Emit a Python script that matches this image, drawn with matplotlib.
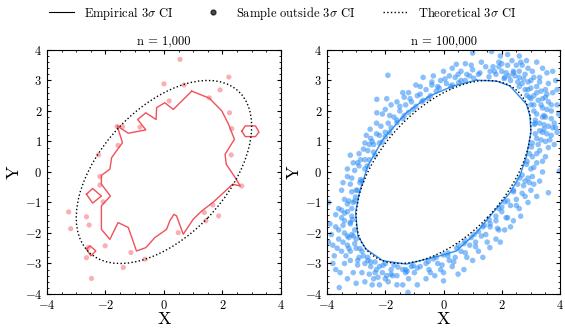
import matplotlib
matplotlib.use("Agg")
import matplotlib.pyplot as plt
from matplotlib.patches import Ellipse
from matplotlib.lines import Line2D
from matplotlib.ticker import AutoMinorLocator, MultipleLocator

plt.rcParams.update({
    "font.family": "serif",
    "font.serif": ["cmr10"],
    "mathtext.fontset": "cm",
    "axes.formatter.use_mathtext": True,
    "xtick.direction": "in",
    "ytick.direction": "in",
    "xtick.top": True,
    "ytick.right": True,
    "xtick.major.size": 3,
    "ytick.major.size": 3,
    "xtick.minor.size": 1.5,
    "ytick.minor.size": 1.5,
    "xtick.minor.visible": True,
    "ytick.minor.visible": True,
    "axes.linewidth": 0.8,
})

# theoretical 3-sigma ellipse (rho = 0.5, unit variances)
ell_center = (0.0, 0.0)
ell_width = 7.348
ell_height = 4.243
ell_angle = 45.0

titles = ["n = 1,000", "n = 100,000"]

# ---- n = 1,000 : empirical contour pieces
emp1_main_x = [0.95, 1.55, 1.98, 2.21, 2.41, 2.09, 2.13, 2.40, 2.61, 2.35, 1.98, 1.67, 1.29, 1.00,
               0.66, 0.43, 0.34, 0.20, 0.09, -0.31, -0.62, -0.94, -1.22, -1.57, -1.85, -2.14,
               -2.14, -1.83, -2.14, -2.14, -1.85, -1.79, -1.42, -1.60, -1.22, -0.62, -0.90,
               -0.62, -0.27, -0.25, 0.03, 0.32, 0.95]
emp1_main_y = [2.65, 2.42, 2.00, 1.56, 1.07, 0.58, 0.25, -0.13, -0.46, -0.40, -0.73, -1.00, -1.28,
               -1.55, -2.04, -1.44, -1.39, -1.60, -1.88, -2.15, -2.48, -2.59, -1.82, -1.66, -2.21,
               -1.88, -1.11, -0.79, -0.40, -0.11, 0.09, 0.47, 0.96, 1.51, 1.27, 1.38, 1.72, 1.94,
               1.72, 2.11, 2.27, 2.05, 2.65]
emp1_d1_x = [-2.65, -2.44, -2.14, -2.44, -2.65]
emp1_d1_y = [-0.73, -0.54, -0.79, -1.02, -0.73]
emp1_d2_x = [-2.65, -2.53, -2.33, -2.50, -2.65]
emp1_d2_y = [-2.53, -2.42, -2.59, -2.75, -2.53]
emp1_hex_x = [2.66, 2.78, 3.13, 3.25, 3.13, 2.78, 2.66]
emp1_hex_y = [1.34, 1.51, 1.51, 1.31, 1.16, 1.16, 1.34]

# ---- n = 1,000 : samples outside
out1_x = [0.55, 2.22, 0.00, 0.69, 1.92, 0.18, 1.55, 2.24, -1.60, -1.42, -0.82, 2.32, -1.57,
          -2.24, 2.30, -2.19, -2.19, 2.66, -2.08, -3.26, -2.65, 1.67, 1.38, 1.43, 1.87, -2.56,
          -3.19, 0.49, -2.01, -2.59, -2.65, -1.13, -0.65, -1.39, -2.48]
out1_y = [3.69, 3.11, 2.89, 2.85, 2.69, 2.33, 2.43, 1.94, 1.49, 1.49, 1.47, 1.42, 0.87,
          0.56, 0.56, -0.15, -0.43, -0.46, -0.98, -1.31, -1.47, -1.08, -1.33, -1.60, -1.44,
          -1.74, -1.86, -1.99, -2.42, -2.48, -2.81, -2.64, -2.86, -3.13, -3.49]

# ---- n = 100,000 : empirical contour
emp2_x = [1.13, 1.82, 2.28, 2.85, 2.97, 3.00, 2.85, 2.62, 2.28, 1.70, 1.13, 0.44, -0.13, -0.59,
          -1.28, -2.08, -2.66, -2.94, -3.02, -2.89, -2.60, -2.08, -1.28, -0.48, 0.33, 1.13]
emp2_y = [3.01, 2.98, 2.82, 2.22, 1.83, 1.29, 0.52, -0.13, -0.68, -1.33, -1.99, -2.59, -2.75,
          -2.86, -3.02, -2.91, -2.53, -2.10, -1.33, -0.68, 0.20, 1.07, 1.94, 2.49, 2.82, 3.01]

# ---- n = 100,000 : samples outside (read region by region)
out2_pts = [
    # north-east
    (1.6, 3.3), (1.8, 3.2), (2.0, 3.3), (2.1, 3.1), (2.3, 3.0), (2.4, 3.3), (2.5, 3.5), (2.6, 3.1),
    (2.7, 2.9), (2.8, 3.2), (2.9, 2.7), (3.0, 3.0), (3.1, 2.5), (3.2, 2.8), (3.3, 3.1), (3.4, 2.4),
    (3.5, 2.7), (3.1, 2.2), (3.2, 1.9), (3.4, 2.1), (3.6, 2.3), (3.3, 1.6), (3.5, 1.8), (3.7, 2.0),
    (3.4, 1.3), (3.6, 1.5), (3.8, 1.6), (3.2, 1.1), (3.5, 1.0), (3.7, 1.2), (3.9, 1.3), (3.3, 0.7),
    (3.5, 0.5), (3.2, 0.3), (3.0, 0.1), (3.4, 0.0), (2.9, -0.2), (3.1, -0.4), (3.6, -0.68),
    (3.98, 0.03), (3.85, 3.0), (3.55, 3.25), (3.2, 3.6), (2.6, 3.8), (2.2, 3.85), (1.65, 3.95),
    (1.0, 3.9), (1.3, 3.6), (1.9, 3.6), (2.9, 3.4), (3.6, 2.9), (3.75, 2.6), (3.9, 2.2), (2.2, 3.5),
    (2.7, 3.5), (3.05, 3.3), (3.35, 2.65), (3.55, 2.05), (3.7, 1.75), (3.45, 1.55), (1.7, 3.45),
    (2.45, 3.15), (2.95, 2.45), (3.25, 2.35), (3.15, 1.7), (3.3, 1.35), (3.6, 0.8), (3.8, 0.9),
    (3.25, 0.9), (3.05, 0.5), (2.35, 3.65), (2.85, 3.65), (3.4, 3.4), (3.75, 3.3), (3.9, 2.7),
    (3.95, 1.9), (3.65, 1.05), (3.4, 0.35), (1.95, 3.8), (3.0, 2.75), (2.6, 3.3), (3.3, 2.95),
    (3.5, 2.45), (3.85, 1.45), (2.15, 3.25), (1.45, 3.45), (2.75, 3.05), (3.45, 1.85),
    (2.9, 2.95), (3.2, 2.6), (3.35, 2.2), (3.4, 1.8), (3.45, 1.4), (2.4, 3.25), (1.9, 3.45),
    (3.35, 1.05), (3.2, 0.6), (1.75, 3.3), (2.25, 3.15), (2.55, 2.95), (2.8, 2.7), (3.0, 2.4),
    (3.1, 2.0), (3.15, 1.6), (3.15, 1.25), (3.05, 0.95), (2.95, 0.6), (2.85, 0.25), (1.25, 3.25),
    (2.0, 3.55), (2.65, 3.6), (3.1, 3.1), (3.55, 2.55), (3.7, 2.2), (3.75, 1.45), (3.55, 1.25),
    # north-west
    (-2.8, -0.3), (-3.0, -0.6), (-3.2, -0.4), (-2.9, 0.2), (-2.7, 0.4), (-3.1, 0.3), (-2.6, 0.7),
    (-2.4, 0.9), (-2.7, 0.95), (-2.52, 1.4), (-2.2, 1.2), (-2.0, 1.3), (-2.3, 1.6), (-1.9, 1.6),
    (-1.7, 1.8), (-2.1, 1.9), (-2.29, 2.38), (-2.29, 1.94), (-1.5, 2.0), (-1.6, 2.3), (-1.3, 2.2),
    (-1.1, 2.3), (-1.4, 2.6), (-0.9, 2.5), (-0.8, 2.8), (-0.6, 2.7), (-0.4, 2.85), (-0.2, 2.8),
    (-0.1, 3.0), (0.1, 2.9), (0.2, 3.15), (0.4, 3.1), (0.44, 3.53), (0.6, 3.3), (0.8, 3.2),
    (1.0, 3.35), (1.2, 3.2), (-1.91, 3.17), (-3.4, -0.9), (-3.5, -0.6), (-3.3, 0.1), (-2.9, 0.6),
    (-2.5, 1.1), (-1.8, 2.2), (-1.2, 2.6), (-0.7, 3.1), (0.0, 3.3), (-3.6, -1.2), (-3.2, 0.55),
    (-2.1, 0.98), (-2.62, 0.2), (-3.02, -0.82), (-1.05, 2.05), (-1.6, 1.62), (-0.52, 2.41),
    (0.52, 2.93), (1.04, 3.07), (-2.87, -0.35), (-2.35, 0.55), (-1.85, 1.3), (-1.35, 1.85),
    (-0.75, 2.3), (-0.25, 2.65), (0.3, 2.85), (0.75, 3.0), (-3.3, -0.15), (-2.65, 1.2),
    (-3.05, -0.95), (-2.95, -0.6), (-2.85, -0.25), (-2.7, 0.1), (-2.55, 0.4), (-2.4, 0.65),
    (-2.2, 0.95), (-2.0, 1.15), (-1.8, 1.45), (-1.6, 1.7), (-1.4, 1.75), (-1.2, 1.95),
    (-0.95, 2.15), (-0.7, 2.35), (-0.45, 2.5), (-0.15, 2.75), (0.25, 2.8), (0.6, 3.0), (0.9, 3.15),
    (-3.15, -0.2), (-2.95, 0.3), (-2.75, 0.75), (-2.45, 1.0), (-2.15, 1.5), (-1.85, 1.85),
    (-1.5, 2.15), (-1.15, 2.4), (-0.8, 2.55), (-0.4, 2.95), (0.05, 3.05), (0.5, 3.2), (0.95, 3.5),
    (-2.0, 2.05), (-1.95, 2.4), (-1.35, 2.45), (-0.95, 2.85), (-0.35, 3.15), (0.3, 3.4),
    (-3.05, 0.05), (-2.85, 0.4), (-2.55, 0.9), (-2.3, 1.25), (-3.45, -0.35), (0.75, 3.55),
    # south-west
    (-3.1, -1.0), (-3.3, -1.3), (-3.5, -1.5), (-3.2, -1.7), (-3.4, -2.0), (-3.7, -1.8), (-3.1, -2.1),
    (-3.3, -2.4), (-3.6, -2.2), (-3.5, -2.6), (-3.0, -2.5), (-2.9, -2.8), (-3.2, -2.9), (-3.4, -3.0),
    (-2.7, -3.0), (-2.5, -3.1), (-2.8, -3.3), (-3.1, -3.3), (-2.3, -3.2), (-2.1, -3.3), (-2.0, -3.0),
    (-1.8, -3.2), (-1.6, -3.4), (-1.4, -3.2), (-1.2, -3.5), (-1.4, -3.7), (-1.22, -3.95),
    (-1.9, -3.6), (-2.4, -3.5), (-2.7, -3.6), (-3.0, -3.65), (-3.58, -3.79), (-3.8, -3.0),
    (-3.95, -2.3), (-3.9, -1.7), (-3.95, -1.0), (-3.7, -1.4), (-3.55, -3.3), (-3.75, -2.75),
    (-2.2, -3.7), (-1.0, -3.3), (-0.8, -3.1), (-0.5, -3.2), (-0.3, -3.4), (0.0, -3.3), (0.0, -3.57),
    (-0.6, -3.5), (-0.9, -3.7), (-2.6, -2.9), (-3.2, -2.6), (-3.4, -1.6), (-3.6, -1.9), (-3.8, -2.4),
    (-3.3, -3.5), (-2.0, -3.5), (-1.6, -3.7), (-3.05, -1.9), (-2.8, -2.6), (-2.35, -2.95),
    (-1.7, -3.05), (-1.1, -3.1), (-3.15, -1.45), (-3.45, -2.3), (-2.55, -3.35), (-3.12, -1.56),
    (-3.0, -2.2), (-2.6, -2.8), (-2.08, -3.06), (-1.56, -3.12), (-1.04, -3.07), (-2.87, -2.51),
    (-3.25, -2.15), (-3.35, -2.75), (-2.95, -3.05), (-2.25, -3.45), (-1.75, -3.4), (-3.65, -2.5),
    (-3.85, -2.05), (-3.5, -1.25), (-3.25, -0.95), (-2.45, -3.7), (-1.3, -3.3), (-3.7, -3.2),
    (-2.95, -2.9), (-3.25, -2.5), (-3.3, -2.1), (-3.45, -1.75), (-3.4, -1.35), (-2.35, -3.3),
    (-1.95, -3.4), (-3.3, -1.05), (-3.15, -0.65), (-1.3, -3.2), (-1.8, -3.35), (-2.2, -3.1),
    (-2.5, -2.95), (-2.75, -2.75), (-3.05, -2.35), (-3.15, -2.05), (-3.2, -1.65), (-3.15, -1.2),
    # south-east
    (2.8, -0.3), (3.0, -0.6), (2.7, -0.7), (2.5, -0.9), (2.3, -1.1), (2.6, -1.2), (2.0, -1.3),
    (2.2, -1.5), (1.8, -1.6), (1.6, -1.8), (1.9, -1.9), (1.3, -2.1), (1.5, -2.3), (1.1, -2.3),
    (0.9, -2.4), (1.2, -2.6), (0.6, -2.6), (0.4, -2.8), (0.8, -2.8), (0.2, -2.9), (-0.2, -3.0),
    (0.3, -3.1), (1.59, -2.48), (1.0, -2.9), (2.4, -1.6), (2.9, -1.0), (3.2, -0.8), (3.3, -0.3),
    (0.7, -3.2), (-0.1, -3.2), (1.8, -2.2), (2.1, -1.9), (2.1, -0.98), (2.62, -0.2), (1.57, -1.57),
    (1.05, -2.05), (0.52, -2.41), (0.0, -2.72), (-0.52, -2.93), (2.87, 0.35), (3.02, 0.82),
    (3.12, 1.56), (3.0, 2.2), (2.6, 2.8), (2.08, 3.06), (1.56, 3.12), (2.86, 2.51), (2.4, -0.6),
    (1.9, -1.2), (1.35, -1.8), (0.75, -2.25), (0.15, -2.65), (-0.35, -2.85), (2.75, -0.45),
    (2.7, -0.1), (2.55, -0.4), (2.4, -0.65), (2.2, -0.95), (2.0, -1.15), (1.8, -1.45),
    (1.6, -1.7), (1.4, -1.75), (1.2, -1.95), (0.95, -2.15), (0.7, -2.35), (0.45, -2.5),
    (0.15, -2.75), (-0.25, -2.8), (-0.6, -3.0), (-0.9, -3.15), (-1.25, -3.25),
    (3.1, 0.15), (2.95, -0.35), (2.8, -0.8), (2.5, -1.1), (2.15, -1.5), (1.85, -1.85),
    (1.45, -2.05), (1.1, -2.45), (0.75, -2.65), (0.35, -2.95), (-0.05, -3.05), (-0.45, -3.3),
    (2.65, -1.45), (2.3, -1.8), (1.95, -2.3), (1.35, -2.8), (0.5, -3.35), (3.05, -0.15),
]
out2_x = [p[0] for p in out2_pts]
out2_y = [p[1] for p in out2_pts]

red = "#f0505a"
blue = "#2b8cf5"

fig = plt.figure(figsize=(5.65, 3.28), dpi=100)
ax1 = fig.add_axes([0.0832, 0.1037, 0.414, 0.744])
ax2 = fig.add_axes([0.5788, 0.1037, 0.4124, 0.744])

# left panel
ax1.scatter(out1_x, out1_y, s=14, color=red, alpha=0.45, edgecolors="none", zorder=1)
for xs, ys in [(emp1_main_x, emp1_main_y), (emp1_d1_x, emp1_d1_y),
               (emp1_d2_x, emp1_d2_y), (emp1_hex_x, emp1_hex_y)]:
    ax1.plot(xs, ys, color=red, lw=1.0, zorder=2)

# right panel
ax2.scatter(out2_x, out2_y, s=16, color=blue, alpha=0.55, edgecolors="none", zorder=1)
ax2.plot(emp2_x, emp2_y, color=blue, lw=1.0, zorder=2)

for ax, title in zip([ax1, ax2], titles):
    ax.add_patch(Ellipse(ell_center, ell_width, ell_height, angle=ell_angle,
                         fill=False, ls=":", lw=1.0, color="black", zorder=3))
    ax.set_xlim(-4, 4)
    ax.set_ylim(-4, 4)
    ax.xaxis.set_major_locator(MultipleLocator(2))
    ax.yaxis.set_major_locator(MultipleLocator(1))
    ax.xaxis.set_minor_locator(AutoMinorLocator())
    ax.yaxis.set_minor_locator(AutoMinorLocator())
    ax.tick_params(labelsize=9)
    ax.set_title(title, fontsize=9, pad=4)
    ax.set_xlabel("X", fontsize=13, labelpad=0)
    ax.set_ylabel("Y", fontsize=13, labelpad=2)

handles = [
    Line2D([], [], color="black", lw=0.8),
    Line2D([], [], color="black", marker="o", ls="none", ms=3.5, alpha=0.7),
    Line2D([], [], color="black", ls=":", lw=1.0),
]
labels = [r"Empirical $3\sigma$ CI", r"Sample outside $3\sigma$ CI", r"Theoretical $3\sigma$ CI"]
fig.legend(handles, labels, loc="upper center", bbox_to_anchor=(0.5, 1.02), ncol=3,
           frameon=False, fontsize=9, handlelength=2.0, handletextpad=0.8,
           columnspacing=2.2)

fig.savefig("out.png", dpi=100)
